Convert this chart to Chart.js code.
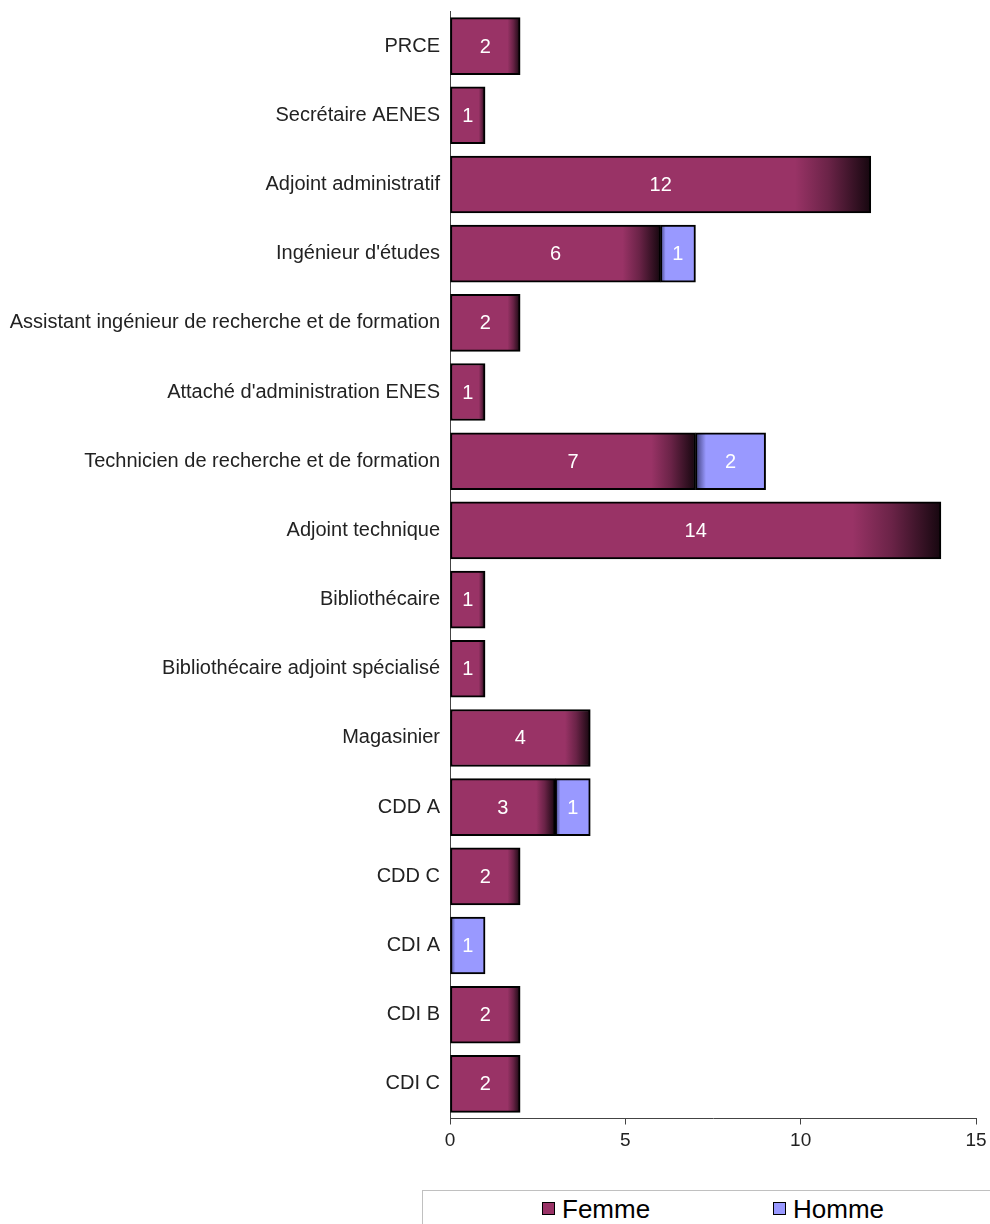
<!DOCTYPE html>
<html>
<head>
<meta charset="utf-8">
<script src="https://cdn.jsdelivr.net/npm/chart.js@4.4.1/dist/chart.umd.min.js"></script>
<style>
  html, body { margin: 0; padding: 0; background: #fff; }
  body { width: 990px; height: 1224px; position: relative; overflow: hidden; font-family: "Liberation Sans", Arial, sans-serif; }
  #wrap { position: absolute; left: 0; top: 0; width: 990px; height: 1180px; }
  #legend { position: absolute; left: 422px; top: 1190px; width: 620px; height: 60px; border: 1px solid #c0c0c0; box-sizing: border-box; }
  .item { position: absolute; top: 0; height: 36px; line-height: 36px; font-size: 26px; color: #000; white-space: nowrap; }
  .sw { position: absolute; top: 11px; width: 11px; height: 11px; border: 1.5px solid #000; }
</style>
</head>
<body>
<div id="wrap"><canvas id="c"></canvas></div>
<div id="legend"></div>
<script>
const categories = [
  "PRCE",
  "Secrétaire AENES",
  "Adjoint administratif",
  "Ingénieur d'études",
  "Assistant ingénieur de recherche et de formation",
  "Attaché d'administration ENES",
  "Technicien de recherche et de formation",
  "Adjoint technique",
  "Bibliothécaire",
  "Bibliothécaire adjoint spécialisé",
  "Magasinier",
  "CDD A",
  "CDD C",
  "CDI A",
  "CDI B",
  "CDI C"
];
const femme = [2, 1, 12, 6, 2, 1, 7, 14, 1, 1, 4, 3, 2, 0, 2, 2];
const homme = [0, 0, 0, 1, 0, 0, 2, 0, 0, 0, 0, 1, 0, 1, 0, 0];
const seriesNames = ["Femme", "Homme"];
const seriesColors = ["#993366", "#9999FF"];
const xTicks = [0, 5, 10, 15];

const FONT = "'Liberation Sans', Arial, sans-serif";

function femmeFill(ctx) {
  const chart = ctx.chart;
  const xs = chart.scales && chart.scales.x;
  if (!xs || !chart.chartArea) return seriesColors[0];
  const v = femme[ctx.dataIndex];
  const x0 = xs.getPixelForValue(0), x1 = xs.getPixelForValue(v);
  if (!(x1 > x0)) return seriesColors[0];
  const g = chart.ctx.createLinearGradient(x0, 0, x1, 0);
  g.addColorStop(0, "#993366");
  g.addColorStop(0.82, "#993366");
  g.addColorStop(0.9, "#6a2347");
  g.addColorStop(1, "#16070f");
  return g;
}
function hommeFill(ctx) {
  const chart = ctx.chart;
  const xs = chart.scales && chart.scales.x;
  if (!xs || !chart.chartArea) return seriesColors[1];
  const f = femme[ctx.dataIndex], h = homme[ctx.dataIndex];
  const x0 = xs.getPixelForValue(f), x1 = xs.getPixelForValue(f + h);
  if (!(x1 > x0)) return seriesColors[1];
  const g = chart.ctx.createLinearGradient(x0, 0, x1, 0);
  g.addColorStop(0, "#2b2b5c");
  g.addColorStop(0.05, "#5c5ca6");
  g.addColorStop(0.15, "#9999FF");
  g.addColorStop(1, "#9999FF");
  return g;
}

const valueLabels = {
  id: "valueLabels",
  afterDatasetsDraw(chart) {
    const c = chart.ctx;
    c.save();
    c.font = "20px " + FONT;
    c.fillStyle = "#ffffff";
    c.textAlign = "center";
    c.textBaseline = "middle";
    chart.data.datasets.forEach((ds, di) => {
      const meta = chart.getDatasetMeta(di);
      meta.data.forEach((el, i) => {
        const v = ds.data[i];
        if (!v) return;
        const cx = (el.x + el.base) / 2;
        c.fillText(String(v), cx, el.y + 1);
      });
    });
    c.restore();
  }
};

new Chart(document.getElementById("c"), {
  type: "bar",
  data: {
    labels: categories,
    datasets: [
      { label: seriesNames[0], data: femme, backgroundColor: femmeFill, borderColor: "#000", borderWidth: 2, borderSkipped: false, barThickness: 57 },
      { label: seriesNames[1], data: homme, backgroundColor: hommeFill, borderColor: "#000", borderWidth: 2, borderSkipped: false, barThickness: 57 }
    ]
  },
  options: {
    indexAxis: "y",
    responsive: true,
    maintainAspectRatio: false,
    animation: false,
    layout: { padding: { left: 0, right: 14, top: 11.5, bottom: 21.5 } },
    plugins: { legend: { display: false }, tooltip: { enabled: false } },
    scales: {
      x: {
        stacked: true,
        min: 0, max: 15,
        afterBuildTicks: s => { s.ticks = xTicks.map(v => ({ value: v })); },
        afterFit: s => { s.height = 40; s.paddingLeft = 0; s.paddingRight = 0; },
        grid: { drawOnChartArea: false, drawTicks: true, tickLength: 6, color: "#444", lineWidth: 1 },
        border: { display: true, color: "#444", width: 1 },
        ticks: { color: "#222", font: { family: FONT, size: 19 }, padding: 5, maxRotation: 0 }
      },
      y: {
        stacked: true,
        afterFit: s => { s.width = 450; s.paddingTop = 0; s.paddingBottom = 0; },
        grid: { drawOnChartArea: false, drawTicks: false },
        border: { display: true, color: "#444", width: 1 },
        ticks: { color: "#222", font: { family: FONT, size: 20 }, padding: 10, autoSkip: false }
      }
    }
  },
  plugins: [valueLabels]
});

// Legend (HTML, real text)
const legend = document.getElementById("legend");
const legendX = [119, 350];
seriesNames.forEach((n, i) => {
  const sw = document.createElement("div");
  sw.className = "sw";
  sw.style.left = legendX[i] + "px";
  sw.style.background = seriesColors[i];
  legend.appendChild(sw);
  const t = document.createElement("div");
  t.className = "item";
  t.style.left = (legendX[i] + 20) + "px";
  t.textContent = n;
  legend.appendChild(t);
});
</script>
</body>
</html>
